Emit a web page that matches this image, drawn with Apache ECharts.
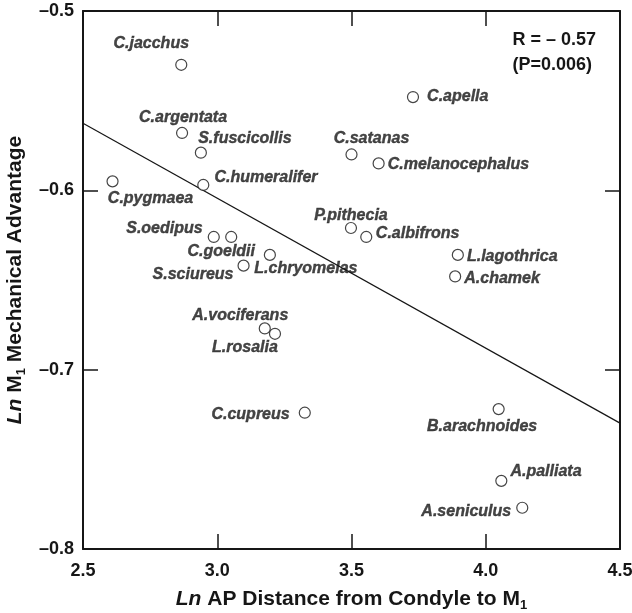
<!DOCTYPE html>
<html>
<head>
<meta charset="utf-8">
<script src="https://cdn.jsdelivr.net/npm/echarts@6/dist/echarts.min.js"></script>
<style>
  html, body { margin: 0; background: #fff; }
  #chart { width: 632px; height: 613px; }
</style>
</head>
<body>
<div id="chart"></div>
<script>
// species and their values
const species = [
  'C.jacchus', 'C.argentata', 'S.fuscicollis', 'C.humeralifer', 'C.pygmaea',
  'S.oedipus', 'C.goeldii', 'L.chryomelas', 'S.sciureus', 'A.vociferans',
  'L.rosalia', 'C.cupreus', 'C.apella', 'C.satanas', 'C.melanocephalus',
  'P.pithecia', 'C.albifrons', 'L.lagothrica', 'A.chamek', 'B.arachnoides',
  'A.palliata', 'A.seniculus'
];
const lnDistance = [
  2.866, 2.869, 2.939, 2.948, 2.610,
  2.987, 3.052, 3.196, 3.098, 3.177,
  3.215, 3.326, 3.729, 3.500, 3.601,
  3.498, 3.555, 3.896, 3.886, 4.048,
  4.058, 4.136
];
const lnAdvantage = [
  -0.530, -0.568, -0.579, -0.597, -0.595,
  -0.626, -0.626, -0.636, -0.642, -0.677,
  -0.680, -0.724, -0.548, -0.580, -0.585,
  -0.621, -0.626, -0.636, -0.648, -0.722,
  -0.762, -0.777
];
const fitX = [2.5, 4.5];
const fitY = [-0.5626, -0.7298];
const xTicks = [2.5, 3.0, 3.5, 4.0, 4.5];
const yTicks = [-0.5, -0.6, -0.7, -0.8];
const statLines = ['R = \u2013 0.57', '(P=0.006)'];

// where each species label sits relative to its circle
const labelPlace = {
  'C.jacchus': ['top', [-30, -2]],
  'C.argentata': ['top', [1, 4]],
  'S.fuscicollis': ['top', [44, 5]],
  'C.humeralifer': ['right', [0, -7]],
  'C.pygmaea': ['bottom', [38, -1.5]],
  'S.oedipus': ['left', [0, -8]],
  'C.goeldii': ['bottom', [-10, -4.5]],
  'L.chryomelas': ['bottom', [36, -5]],
  'S.sciureus': ['left', [1, 9]],
  'A.vociferans': ['top', [-24.5, 6]],
  'L.rosalia': ['bottom', [-30, -5]],
  'C.cupreus': ['left', [-4, 2]],
  'C.apella': ['right', [3, 0]],
  'C.satanas': ['top', [20, 3]],
  'C.melanocephalus': ['right', [-2, 1]],
  'P.pithecia': ['top', [0, 6.5]],
  'C.albifrons': ['right', [-1.5, -3]],
  'L.lagothrica': ['right', [-2, 2]],
  'A.chamek': ['right', [-2, 2]],
  'B.arachnoides': ['bottom', [-16.5, -2]],
  'A.palliata': ['right', [-2, -9]],
  'A.seniculus': ['left', [0, 4]]
};

const FONT = '"Liberation Sans", Arial, Helvetica, sans-serif';
const INK = '#161616';

const points = species.map((name, i) => {
  const p = labelPlace[name];
  return {
    name: name,
    value: [lnDistance[i], lnAdvantage[i]],
    label: { position: p[0], offset: p[1] }
  };
});

const tickLabel = v => v.toFixed(1).replace('-', '\u2013');

const axisTitleRich = {
  i: { fontStyle: 'italic', fontWeight: 'bold', fontSize: 21, fontFamily: FONT, color: INK },
  b: { fontWeight: 'bold', fontSize: 21, fontFamily: FONT, color: INK },
  s: { fontWeight: 'bold', fontSize: 13, fontFamily: FONT, color: INK, padding: [12, 0, 0, 0] }
};

const frameLine = { show: true, lineStyle: { color: INK, width: 2 } };
const innerTick = { show: true, inside: true, length: 15, lineStyle: { color: INK, width: 1.5 } };

const chart = echarts.init(document.getElementById('chart'));
chart.setOption({
  animation: false,
  grid: {
    left: 83, right: 12, top: 11, bottom: 64,
    outerBoundsMode: 'none'
  },
  xAxis: [{
    type: 'value', min: 2.5, max: 4.5, interval: 0.5,
    axisLine: frameLine,
    axisTick: innerTick,
    axisLabel: {
      margin: 13, color: INK, fontSize: 18, fontWeight: 'bold', fontFamily: FONT,
      formatter: v => xTicks.includes(v) ? v.toFixed(1) : ''
    },
    splitLine: { show: false },
    name: '{i|Ln}{b| AP Distance from Condyle to M}{s|1}',
    nameLocation: 'middle', nameGap: 38,
    nameTextStyle: { rich: axisTitleRich }
  }, {
    type: 'value', position: 'top', min: 2.5, max: 4.5, interval: 0.5,
    axisLine: frameLine,
    axisTick: innerTick,
    axisLabel: { show: false },
    splitLine: { show: false }
  }],
  yAxis: [{
    type: 'value', min: -0.8, max: -0.5, interval: 0.1,
    axisLine: frameLine,
    axisTick: innerTick,
    axisLabel: {
      margin: 9, color: INK, fontSize: 18, fontWeight: 'bold', fontFamily: FONT,
      formatter: v => yTicks.some(t => Math.abs(t - v) < 1e-9) ? tickLabel(v) : ''
    },
    splitLine: { show: false },
    name: '{i|Ln}{b| M}{s|1}{b| Mechanical Advantage}',
    nameLocation: 'middle', nameGap: 54, nameRotate: 90,
    nameTextStyle: { rich: axisTitleRich }
  }, {
    type: 'value', position: 'right', min: -0.8, max: -0.5, interval: 0.1,
    axisLine: frameLine,
    axisTick: innerTick,
    axisLabel: { show: false },
    splitLine: { show: false }
  }],
  graphic: [{
    type: 'text', right: 36, top: 28,
    style: {
      text: statLines.join('\n'), align: 'right', lineHeight: 25,
      font: 'bold 18px ' + FONT, fill: INK
    }
  }],
  series: [{
    type: 'line',
    xAxisIndex: 0, yAxisIndex: 0,
    data: fitX.map((x, i) => [x, fitY[i]]),
    symbol: 'none',
    lineStyle: { color: INK, width: 1.2 },
    z: 1
  }, {
    type: 'scatter',
    xAxisIndex: 0, yAxisIndex: 0,
    data: points,
    symbol: 'circle', symbolSize: 11,
    itemStyle: { color: '#fff', borderColor: INK, borderWidth: 1.2 },
    label: {
      show: true, distance: 5, formatter: '{b}',
      color: INK, fontSize: 16, fontWeight: 'bold', fontStyle: 'italic', fontFamily: FONT,
      textBorderColor: INK, textBorderWidth: 0.4
    },
    z: 3
  }]
});
</script>
</body>
</html>
